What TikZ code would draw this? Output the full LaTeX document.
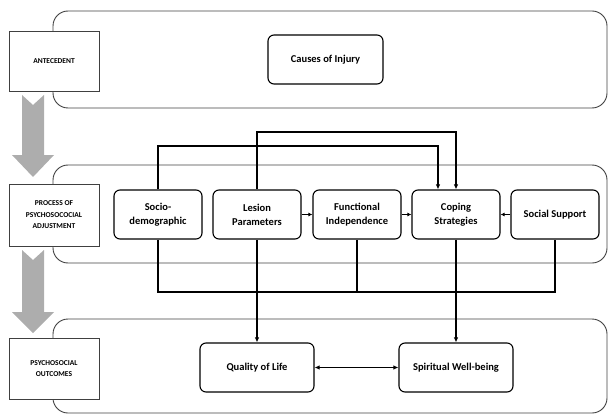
\documentclass[tikz,border=0pt]{standalone}
\usepackage{fontspec}
\setmainfont{Carlito}
\usetikzlibrary{arrows.meta,positioning,calc}
\tikzset{
  band/.style={draw=black!75,rectangle,rounded corners=15pt,line width=0.9pt},
  stagebox/.style={draw=black!75,fill=white,rectangle,line width=0.9pt,minimum width=90pt,font=\fontsize{7.5}{11.5}\selectfont\bfseries,align=center},
  factor/.style={draw,rectangle,rounded corners=6pt,line width=1.1pt,minimum width=88pt,minimum height=49pt,font=\fontsize{10.5}{14}\selectfont\bfseries,align=center,fill=white},
  outcome/.style={factor,minimum width=114pt},
  link/.style={line width=1.8pt},
  arr/.style={link,-{Latex[length=5pt,width=4.5pt]}},
  sarr/.style={line width=1.3pt,-{Latex[length=4pt,width=4pt]}},
  darr/.style={line width=1.4pt,{Latex[length=5pt,width=4.5pt]}-{Latex[length=5pt,width=4.5pt]}},
  grayarr/.style={fill=black!32}
}
\begin{document}
\begin{tikzpicture}[x=1pt,y=-1pt]
  \useasboundingbox (0,0) rectangle (609,414);
  % Bands
  \node[band,minimum width=554pt,minimum height=97pt] (bandA) at (330,59.5) {};
  \node[band,minimum width=554pt,minimum height=98pt] (bandP) at (330,214) {};
  \node[band,minimum width=554pt,minimum height=94pt] (bandO) at (330,366) {};

  % Stage labels
  \node[stagebox,minimum height=60pt] (antecedent) at (54,61) {ANTECEDENT};
  \node[stagebox,minimum height=62pt] (process) at (54,215) {PROCESS OF\\PSYCHOSOCOCIAL\\ADJUSTMENT};
  \node[stagebox,minimum height=61pt] (outcomes) at (54,368.5) {PSYCHOSOCIAL\\OUTCOMES};

  % Gray stage arrows
  \fill[grayarr] (22,95) -- (33,105) -- (44,95) -- (44,155) -- (54,155) -- (33,177) -- (12,155) -- (22,155) -- cycle;
  \fill[grayarr] (22,250) -- (33,260) -- (44,250) -- (44,312) -- (54,312) -- (33,333) -- (12,312) -- (22,312) -- cycle;

  % Antecedent
  \node[factor,minimum width=115pt] (causes) at (325.5,59.5) {Causes of Injury};

  % Adjustment factors
  \node[factor] (socio) at (158,214.5) {Socio-\\demographic};
  \node[factor] (lesion) at (257,214.5) {Lesion\\Parameters};
  \node[factor] (func) at (357,214.5) {Functional\\Independence};
  \node[factor] (coping) at (456,214.5) {Coping\\Strategies};
  \node[factor] (social) at (555,214.5) {Social Support};

  % Outcomes
  \node[outcome] (qol) at (257,367.5) {Quality of Life};
  \node[outcome] (spirit) at (456,367.5) {Spiritual Well-being};

  % Top links into coping
  \coordinate (topA) at (300,146);
  \coordinate (topB) at (300,132);
  \draw[arr] (socio.north) -- (socio.north |- topA) -| ([xshift=-18pt]coping.north);
  \draw[arr] (lesion.north) -- (lesion.north |- topB) -| (coping.north);

  % Row links
  \draw[sarr] (lesion.east) -- (func.west);
  \draw[sarr] (func.east) -- (coping.west);
  \draw[sarr] (social.west) -- (coping.east);

  % Bottom bus
  \coordinate (bus) at (300,292);
  \draw[link] (socio.south) |- (social.south |- bus) -- (social.south);
  \draw[link] (func.south) -- (func.south |- bus);
  \draw[arr] (lesion.south) -- (qol.north);
  \draw[arr] (coping.south) -- (spirit.north);
  \draw[darr] (qol.east) -- (spirit.west);
\end{tikzpicture}
\end{document}
